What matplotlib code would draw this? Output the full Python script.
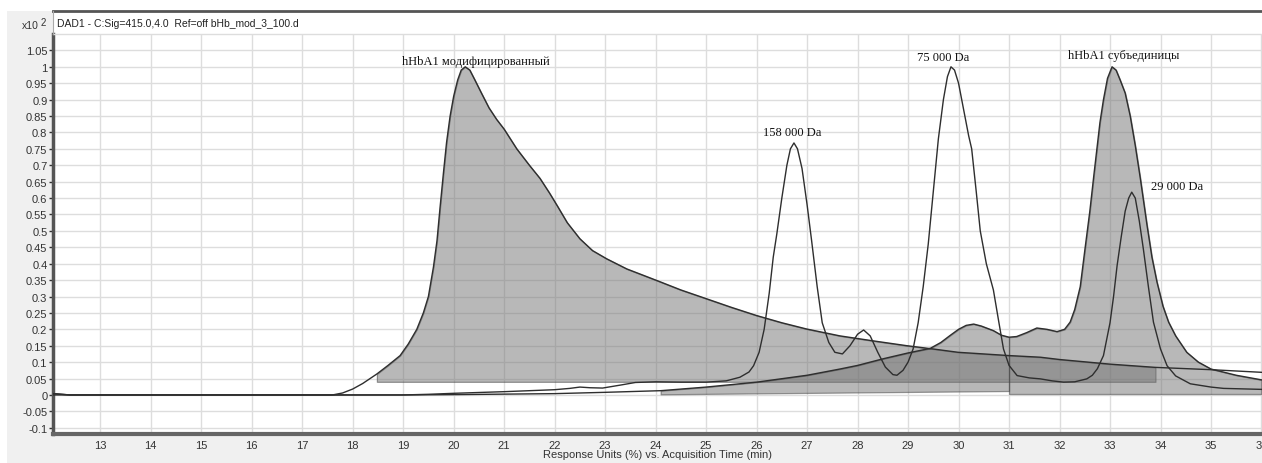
import numpy as np
import matplotlib
matplotlib.use("Agg")
import matplotlib.pyplot as plt
from matplotlib.patches import Rectangle
from matplotlib.lines import Line2D
from matplotlib.ticker import MultipleLocator, FuncFormatter

# ----- data (x = min, y = response x10^2) -----
# hHbA1 modified (shaded big peak with long tail)
time_mod = [12.07, 12.4, 17.6, 17.8, 18.0, 18.2, 18.48, 18.7, 18.94, 19.1, 19.27, 19.4,
            19.5, 19.6, 19.67, 19.73, 19.8, 19.86, 19.93, 20.0, 20.08, 20.15, 20.23,
            20.32, 20.42, 20.55, 20.7, 20.85, 21.0, 21.25, 21.5, 21.71, 21.9, 22.05,
            22.25, 22.5, 22.75, 23.03, 23.43, 24.02, 24.5, 25.01, 25.5, 26.0, 26.5,
            26.99, 27.65, 28.3, 28.98, 29.5, 29.99, 31.0, 31.62, 32.0, 32.99, 33.9,
            35.0, 36.0]
resp_mod = [0.004, 0.0, 0.0, 0.006, 0.018, 0.035, 0.064, 0.09, 0.12, 0.155, 0.2, 0.25,
            0.3, 0.39, 0.47, 0.57, 0.68, 0.77, 0.85, 0.91, 0.96, 0.99, 1.0,
            0.99, 0.96, 0.92, 0.875, 0.84, 0.81, 0.75, 0.70, 0.66, 0.615, 0.577,
            0.525, 0.476, 0.44, 0.415, 0.384, 0.349, 0.32, 0.293, 0.267, 0.242, 0.22,
            0.201, 0.18, 0.165, 0.15, 0.14, 0.13, 0.12, 0.115, 0.108, 0.094, 0.084,
            0.077, 0.069]

# hHbA1 subunits (shaded peak at 33 min)
time_sub = [12.07, 12.4, 19.0, 20.0, 22.0, 23.0, 24.1, 25.0, 26.0, 27.0, 27.65, 28.0,
            28.5, 29.0, 29.44, 29.65, 29.83, 30.0, 30.15, 30.3, 30.45, 30.69, 30.85,
            31.0, 31.15, 31.35, 31.55, 31.75, 31.95, 32.1, 32.21, 32.3, 32.41, 32.5,
            32.6, 32.68, 32.74, 32.8, 32.87, 32.95, 33.04, 33.12, 33.2, 33.3, 33.4,
            33.5, 33.6, 33.73, 33.83, 33.93, 34.05, 34.16, 34.3, 34.52, 34.75, 35.0,
            35.5, 36.0]
resp_sub = [0.004, 0.0, 0.0, 0.001, 0.004, 0.008, 0.013, 0.024, 0.039, 0.06, 0.079, 0.09,
            0.11, 0.128, 0.142, 0.16, 0.181, 0.2, 0.212, 0.216, 0.21, 0.196, 0.182,
            0.176, 0.178, 0.19, 0.204, 0.2, 0.193, 0.2, 0.222, 0.26, 0.33, 0.44,
            0.56, 0.67, 0.75, 0.83, 0.9, 0.965, 1.0, 0.99, 0.96, 0.92, 0.85,
            0.76, 0.66, 0.52, 0.42, 0.344, 0.27, 0.222, 0.18, 0.13, 0.1, 0.079,
            0.06, 0.046]

# 158 000 / 75 000 / 29 000 Da trace (unshaded)
time_frag = [12.07, 19.0, 19.5, 20.0, 21.0, 22.0, 22.3, 22.5, 22.7, 22.95, 23.3, 23.6,
             24.0, 24.5, 25.0, 25.4, 25.67, 25.85, 25.94, 26.05, 26.15, 26.25, 26.33,
             26.4, 26.5, 26.6, 26.67, 26.74, 26.81, 26.9, 27.0, 27.09, 27.2, 27.3,
             27.43, 27.55, 27.7, 27.85, 28.0, 28.12, 28.25, 28.4, 28.55, 28.7, 28.78,
             28.9, 29.0, 29.1, 29.2, 29.3, 29.4, 29.5, 29.6, 29.7, 29.78, 29.85,
             29.92, 30.0, 30.1, 30.2, 30.26, 30.35, 30.43, 30.55, 30.69, 30.8, 30.89,
             31.0, 31.16, 31.4, 31.62, 31.85, 32.08, 32.3, 32.54, 32.65, 32.75, 32.87,
             33.0, 33.07, 33.14, 33.22, 33.3, 33.37, 33.43, 33.5, 33.58, 33.66, 33.76,
             33.86, 34.0, 34.13, 34.3, 34.59, 35.0, 35.25, 36.0]
resp_frag = [0.0, 0.0, 0.002, 0.005, 0.01, 0.016, 0.02, 0.024, 0.022, 0.021, 0.03, 0.038,
             0.04, 0.039, 0.039, 0.043, 0.054, 0.07, 0.089, 0.13, 0.2, 0.31, 0.42,
             0.49, 0.6, 0.7, 0.75, 0.768, 0.75, 0.69, 0.58, 0.47, 0.33, 0.22,
             0.16, 0.13, 0.125, 0.15, 0.185, 0.198, 0.18, 0.13, 0.085, 0.062, 0.06,
             0.075, 0.1, 0.14, 0.22, 0.33, 0.46, 0.62, 0.78, 0.9, 0.97, 1.0,
             0.99, 0.95, 0.87, 0.79, 0.75, 0.62, 0.5, 0.4, 0.32, 0.22, 0.14,
             0.09, 0.059, 0.052, 0.049, 0.043, 0.039, 0.04, 0.049, 0.06, 0.08, 0.12,
             0.22, 0.3, 0.394, 0.48, 0.56, 0.6, 0.618, 0.6, 0.53, 0.445, 0.33,
             0.222, 0.14, 0.089, 0.058, 0.034, 0.024, 0.02, 0.017]

# integration regions: (start, end, baseline at start, baseline at end)
mod_peak = (18.48, 33.9, 0.04, 0.04)
sub_peaks = [(24.1, 31.0, 0.002, 0.012), (31.0, 36.0, 0.003, 0.003)]

labels = ["hHbA1 модифицированный", "158 000 Da", "75 000 Da",
          "hHbA1 субъединицы", "29 000 Da"]
header = "DAD1 - C:Sig=415.0,4.0  Ref=off bHb_mod_3_100.d"

plt.rcParams["font.family"] = ["Liberation Sans", "DejaVu Sans"]

W, H = 1262, 464
fig = plt.figure(figsize=(W / 100, H / 100), dpi=100)
fig.patch.set_facecolor("white")
fig.patches.append(Rectangle((7 / W, 0), 1, 1 - 12 / H, transform=fig.transFigure,
                             facecolor="#f0f0f0", edgecolor="none", zorder=-5))
fig.patches.append(Rectangle((53 / W, 1 - 35 / H), 1, 23 / H, transform=fig.transFigure,
                             facecolor="white", edgecolor="none", zorder=-4))
fig.lines.append(Line2D([53 / W, 1], [1 - 12 / H] * 2, transform=fig.transFigure,
                        color="#555555", lw=2))
fig.lines.append(Line2D([53 / W] * 2, [1 - 12 / H, 1 - 35 / H], transform=fig.transFigure,
                        color="#aaaaaa", lw=0.8))
fig.text(57 / W, 1 - 24 / H, header, fontsize=7.5, va="center", ha="left", color="#222222")
fig.text(39 / W, 1 - 26 / H, "x10", fontsize=7.5, va="center", ha="right", color="#333333")
fig.text(41 / W, 1 - 23 / H, "2", fontsize=7, va="center", ha="left", color="#333333")

ax = fig.add_axes([53 / W, (H - 435) / H, 1 - 53 / W, 400 / H])
ax.set_facecolor("white")

fill_color = (0.45, 0.45, 0.45)
edge = "#404040"

x1 = np.array(time_mod)
y1 = np.array(resp_mod)
a, b, b0, b1 = mod_peak
m = (x1 >= a) & (x1 <= b)
ax.fill_between(x1[m], y1[m], np.interp(x1[m], [a, b], [b0, b1]),
                facecolor=fill_color, alpha=0.5, edgecolor=edge, lw=0.9, zorder=2)

x2 = np.array(time_sub)
y2 = np.array(resp_sub)
for a, b, b0, b1 in sub_peaks:
    m = (x2 >= a) & (x2 <= b)
    ax.fill_between(x2[m], y2[m], np.interp(x2[m], [a, b], [b0, b1]),
                    facecolor=fill_color, alpha=0.5, edgecolor=edge, lw=0.9, zorder=2)

line_kw = dict(color="#2e2e2e", lw=1.0, zorder=3, solid_joinstyle="round")
ax.plot(time_mod, resp_mod, **line_kw)
ax.plot(time_sub, resp_sub, **line_kw)
ax.plot(time_frag, resp_frag, **line_kw)

# peak labels
serif = dict(family=["Liberation Serif", "DejaVu Serif"], fontsize=9, ha="center",
             va="center", color="#111111", zorder=4)
ax.text(20.45, 1.017, labels[0], **serif)
ax.text(26.71, 0.80, labels[1], **serif)
ax.text(29.70, 1.03, labels[2], **serif)
ax.text(33.28, 1.035, labels[3], **serif)
ax.text(34.33, 0.638, labels[4], **serif)

ax.set_xlim(12.065, 36.01)
ax.set_ylim(-0.119, 1.1)
ax.xaxis.set_major_locator(MultipleLocator(1))
ax.set_yticks(np.round(np.arange(-0.1, 1.0501, 0.05), 2))


def fmt(v, _):
    s = ("%.2f" % v).rstrip("0").rstrip(".")
    return "0" if s in ("-0", "") else s


ax.yaxis.set_major_formatter(FuncFormatter(fmt))
ax.grid(True, color="#dddddd", lw=1)
ax.set_axisbelow(True)

ax.tick_params(axis="x", length=0, pad=4.5, labelsize=8, colors="#333333")
ax.tick_params(axis="y", length=3, width=1, pad=1, labelsize=8, colors="#333333")

ax.spines["right"].set_visible(False)
ax.spines["top"].set_color("#dddddd")
ax.spines["top"].set_linewidth(1)
ax.spines["left"].set_color("#555555")
ax.spines["left"].set_linewidth(2.5)
ax.spines["bottom"].set_color("#666666")
ax.spines["bottom"].set_linewidth(3)

ax.set_xlabel("Response Units (%) vs. Acquisition Time (min)", fontsize=8,
              color="#333333", labelpad=-1)

fig.savefig("out.png", dpi=100)
